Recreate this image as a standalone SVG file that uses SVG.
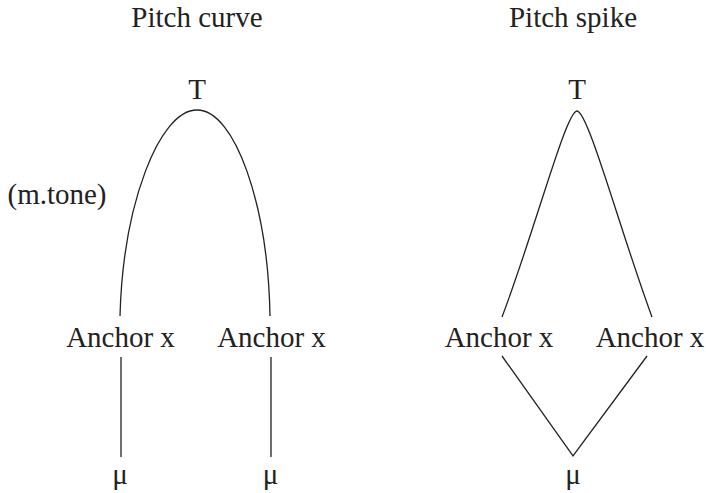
<svg xmlns="http://www.w3.org/2000/svg" width="706" height="493" viewBox="0 0 706 493">
<style>
text{font-family:"Liberation Serif","Times New Roman",serif;font-size:29px;fill:#222;text-anchor:middle}
.c{fill:none;stroke:#222;stroke-width:1.3}
</style>
<rect width="706" height="493" fill="#fff"/>
<g id="titles">
<text x="197" y="27">Pitch curve</text>
<text x="573" y="27">Pitch spike</text>
</g>
<g id="label-mtone"><text x="57" y="204">(m.tone)</text></g>
<g id="T-curve"><text x="197" y="99">T</text></g>
<g id="T-spike"><text x="577" y="99">T</text></g>
<g id="anchor-c1"><text x="120.5" y="347">Anchor x</text></g>
<g id="anchor-c2"><text x="271.5" y="347">Anchor x</text></g>
<g id="anchor-s1"><text x="499" y="347">Anchor x</text></g>
<g id="anchor-s2"><text x="650" y="347">Anchor x</text></g>
<g id="mu-c1"><text x="120" y="484">μ</text></g>
<g id="mu-c2"><text x="270.5" y="484">μ</text></g>
<g id="mu-s"><text x="573" y="484">μ</text></g>
<g id="connectors">
<path class="c" d="M120,316 C123,205 159,110 197,110 C235,110 268,205 270,316"/>
<path class="c" d="M502,317 C535,230 566,111 577,111 C588,111 620,230 652,317"/>
<line class="c" x1="121" y1="357" x2="121" y2="457"/>
<line class="c" x1="271" y1="357" x2="271" y2="457"/>
<polyline class="c" points="502,356 573,456 647,356"/>
</g>
</svg>
